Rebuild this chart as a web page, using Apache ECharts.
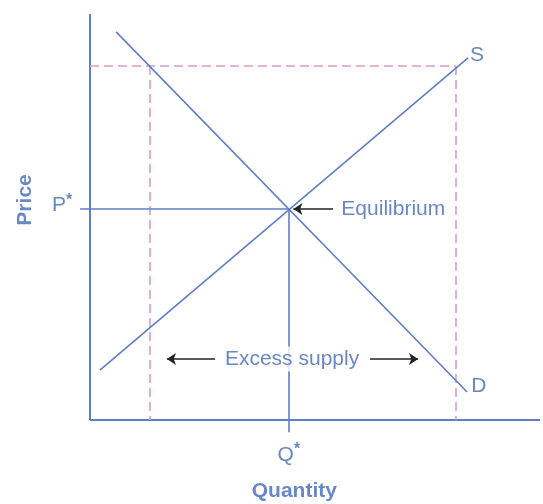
<!DOCTYPE html>
<html><head><meta charset="utf-8">
<script src="https://cdn.jsdelivr.net/npm/echarts@6/dist/echarts.min.js"></script>
<style>html,body{margin:0;padding:0;background:#fff}#c{width:543px;height:504px}</style>
</head><body><div id="c"></div>
<script>
// Data (quantity, price) in chart units
const supplyQ = [2.2, 84.0];
const supplyP = [12.3, 89.2];
const demandQ = [5.8, 83.8];
const demandP = [95.6, 6.9];
const eqQ = 44.2, eqP = 52.0;
const highPrice = 87.2;
const qDemanded = 13.3, qSupplied = 81.3;
const pStarLineStart = -2.2;
const qStarLineEnd = -3.0;
const axisQMax = 100, axisPMax = 100;
const labelTexts = ['S', 'D', 'Equilibrium', 'Excess supply', 'Quantity', 'Price'];

const LINE = '#5f7ec6', TEXT = '#4269b8', PINK = '#d59ccc';
const FONT = '"Liberation Sans", Arial, sans-serif';

function seg(pts, color, type, width) {
  return { type: 'lines', coordinateSystem: 'cartesian2d', silent: true, z: 3,
    data: [{ coords: pts }],
    lineStyle: { color: color, width: width || 1.6, type: type || 'solid', opacity: 1 } };
}
function txt(x, y, text, opts) {
  return { value: [x, y], label: Object.assign({ show: true, position: 'inside', formatter: text,
    color: TEXT, fontSize: 21, fontFamily: FONT }, opts || {}) };
}
const star = { color: TEXT, fontSize: 16, fontWeight: 'bold', fontFamily: FONT, padding: [0, 0, 10, 0] };

const chart = echarts.init(document.getElementById('c'));
chart.setOption({
  animation: false,
  grid: { left: 0, right: 3, top: 14, bottom: 2.8 },
  xAxis: { type: 'value', min: -20, max: 100, show: false },
  yAxis: { type: 'value', min: -20, max: 100, show: false },
  series: [
    seg([[0, 0], [0, axisPMax]], LINE, 'solid', 2),
    seg([[0, 0], [axisQMax, 0]], LINE, 'solid', 2),
    seg([[0, highPrice], [qSupplied, highPrice]], PINK, [9, 5]),
    seg([[qDemanded, highPrice], [qDemanded, 0]], PINK, [9, 5]),
    seg([[qSupplied, highPrice], [qSupplied, 0]], PINK, [9, 5]),
    seg([[supplyQ[0], supplyP[0]], [supplyQ[1], supplyP[1]]], LINE),
    seg([[demandQ[0], demandP[0]], [demandQ[1], demandP[1]]], LINE),
    seg([[pStarLineStart, eqP], [eqQ, eqP]], LINE),
    seg([[eqQ, eqP], [eqQ, qStarLineEnd]], LINE),
    { type: 'lines', coordinateSystem: 'cartesian2d', symbol: ['none', 'arrow'], symbolSize: 9, silent: true, z: 4,
      lineStyle: { color: '#222', width: 1.5, opacity: 1 },
      data: [
        { coords: [[54.0, eqP], [45.2, eqP]] },
        { coords: [[27.8, 15.0], [17.1, 15.0]] },
        { coords: [[62.2, 15.0], [72.9, 15.0]] }
      ] },
    { type: 'scatter', symbolSize: 0, silent: true, z: 10,
      data: [
        txt(86.0, 89.9, labelTexts[0]),
        txt(86.4, 8.4, labelTexts[1]),
        txt(67.4, eqP, labelTexts[2]),
        txt(44.9, 15.0, labelTexts[3], { backgroundColor: '#fff', padding: [2, 6] }),
        txt(45.4, -17.6, labelTexts[4], { fontWeight: 'bold' }),
        txt(-14.4, 54.2, labelTexts[5], { fontWeight: 'bold', rotate: 90 }),
        txt(-6.2, 52.8, '{a|P}{s|*}', { rich: { a: { color: TEXT, fontSize: 21, fontFamily: FONT }, s: star } }),
        txt(44.2, -8.6, '{a|Q}{s|*}', { rich: { a: { color: TEXT, fontSize: 21, fontFamily: FONT }, s: star } })
      ] }
  ]
});
</script></body></html>
